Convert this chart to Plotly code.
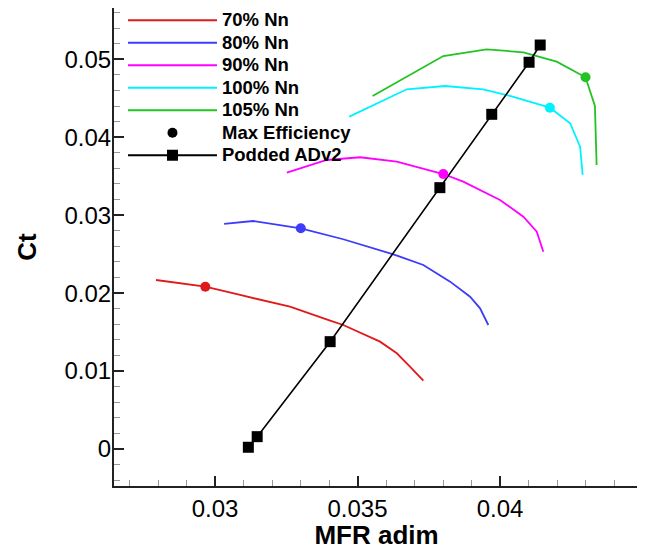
import plotly.graph_objects as go

# ---- data ----
mfr_70 = [0.02793, 0.02966, 0.03088, 0.03263, 0.03404, 0.03450, 0.03579, 0.03638, 0.03684, 0.03731]
ct_70 = [0.02168, 0.02082, 0.01976, 0.01826, 0.01646, 0.01591, 0.01377, 0.01228, 0.01056, 0.00876]

mfr_80 = [0.03032, 0.03134, 0.03301, 0.03450, 0.03626, 0.03731, 0.03825, 0.03895, 0.03930, 0.03959]
ct_80 = [0.02887, 0.02925, 0.02832, 0.02691, 0.02498, 0.02361, 0.02147, 0.01954, 0.01805, 0.01591]

mfr_90 = [0.03252, 0.03392, 0.03509, 0.03638, 0.03801, 0.03871, 0.04000, 0.04082, 0.04129, 0.04152]
ct_90 = [0.03545, 0.03708, 0.03743, 0.03686, 0.03528, 0.03430, 0.03195, 0.02980, 0.02788, 0.02531]

mfr_100 = [0.03471, 0.03555, 0.03673, 0.03807, 0.03941, 0.04035, 0.04175, 0.04246, 0.04281, 0.04290]
ct_100 = [0.04264, 0.04414, 0.04615, 0.04657, 0.04615, 0.04529, 0.04379, 0.04179, 0.03879, 0.03516]

mfr_105 = [0.03553, 0.03673, 0.03801, 0.03953, 0.04082, 0.04199, 0.04300, 0.04333, 0.04339]
ct_105 = [0.04529, 0.04777, 0.05042, 0.05128, 0.05090, 0.04969, 0.04769, 0.04401, 0.03644]

max_eff_mfr = [0.02966, 0.03301, 0.03801, 0.04175, 0.04300]
max_eff_ct = [0.02082, 0.02832, 0.03528, 0.04379, 0.04769]

podded_mfr = [0.03117, 0.03148, 0.03404, 0.03789, 0.03971, 0.04102, 0.04141]
podded_ct = [0.00022, 0.00158, 0.01377, 0.03353, 0.04294, 0.04962, 0.05183]

series_names = ["70% Nn", "80% Nn", "90% Nn", "100% Nn", "105% Nn"]
series_colors = ["#e01a1a", "#3c3cfa", "#ff00ff", "#00f2ff", "#22c322"]

FONT = "Liberation Sans, Arial, Helvetica, sans-serif"

def lbl(t):
    return '<span style="font-size:18.5px">' + t + '</span>'

fig = go.Figure()

curves = [(mfr_70, ct_70), (mfr_80, ct_80), (mfr_90, ct_90), (mfr_100, ct_100), (mfr_105, ct_105)]
for (xs, ys), name, col in zip(curves, series_names, series_colors):
    fig.add_trace(go.Scatter(x=xs, y=ys, mode="lines", name=lbl(name),
                             line=dict(color=col, width=1.8)))

fig.add_trace(go.Scatter(x=podded_mfr, y=podded_ct, mode="lines+markers",
                         line=dict(color="black", width=1.6),
                         marker=dict(symbol="square", size=11, color="black"),
                         showlegend=False))

# max-efficiency points, coloured by curve
fig.add_trace(go.Scatter(x=max_eff_mfr, y=max_eff_ct, mode="markers", showlegend=False,
                         marker=dict(size=10, color=series_colors)))

# legend entries for marker types
fig.add_trace(go.Scatter(x=[None], y=[None], mode="markers", name=lbl("Max Efficiency"),
                         marker=dict(size=10, color="black")))
fig.add_trace(go.Scatter(x=[None], y=[None], mode="lines+markers", name=lbl("Podded ADv2"),
                         line=dict(color="black", width=2.2),
                         marker=dict(symbol="square", size=11, color="black")))

fig.update_layout(
    width=637, height=542,
    margin=dict(l=106, r=6, t=0, b=64, autoexpand=False),
    paper_bgcolor="white", plot_bgcolor="white",
    font=dict(family=FONT, color="black"),
    legend=dict(x=0.0171, y=1.0084, xanchor="left", yanchor="top",
                bgcolor="rgba(0,0,0,0)", itemwidth=89,
                font=dict(family=FONT, size=15, color="black", weight="bold"),
                tracegroupgap=0),
    xaxis=dict(range=[0.026456, 0.044877], dtick=0.005, tick0=0, automargin=False,
               showgrid=False, zeroline=False, showline=True, linecolor="#222", linewidth=2,
               ticks="inside", ticklen=10, tickwidth=2, tickcolor="#222",
               minor=dict(ticks="inside", ticklen=6, dtick=0.001, tickcolor="#999", tickwidth=1, showgrid=False),
               tickfont=dict(size=24, family=FONT, color="black"),
               title=dict(text="<b>MFR adim</b>", font=dict(size=26, family=FONT, color="black"), standoff=4),
               mirror=False),
    yaxis=dict(range=[-0.00475, 0.05658], dtick=0.01, tick0=0, automargin=False,
               showgrid=False, zeroline=False, showline=True, linecolor="#222", linewidth=2,
               ticks="inside", ticklen=10, tickwidth=2, tickcolor="#222",
               minor=dict(ticks="inside", ticklen=6, dtick=0.002, tickcolor="#999", tickwidth=1, showgrid=False),
               tickfont=dict(size=24, family=FONT, color="black"),
               ticklabelstandoff=-4,
               title=dict(text="<b>Ct</b>", font=dict(size=26, family=FONT, color="black"), standoff=20),
               mirror=False),
)

fig.write_html("out.html")
